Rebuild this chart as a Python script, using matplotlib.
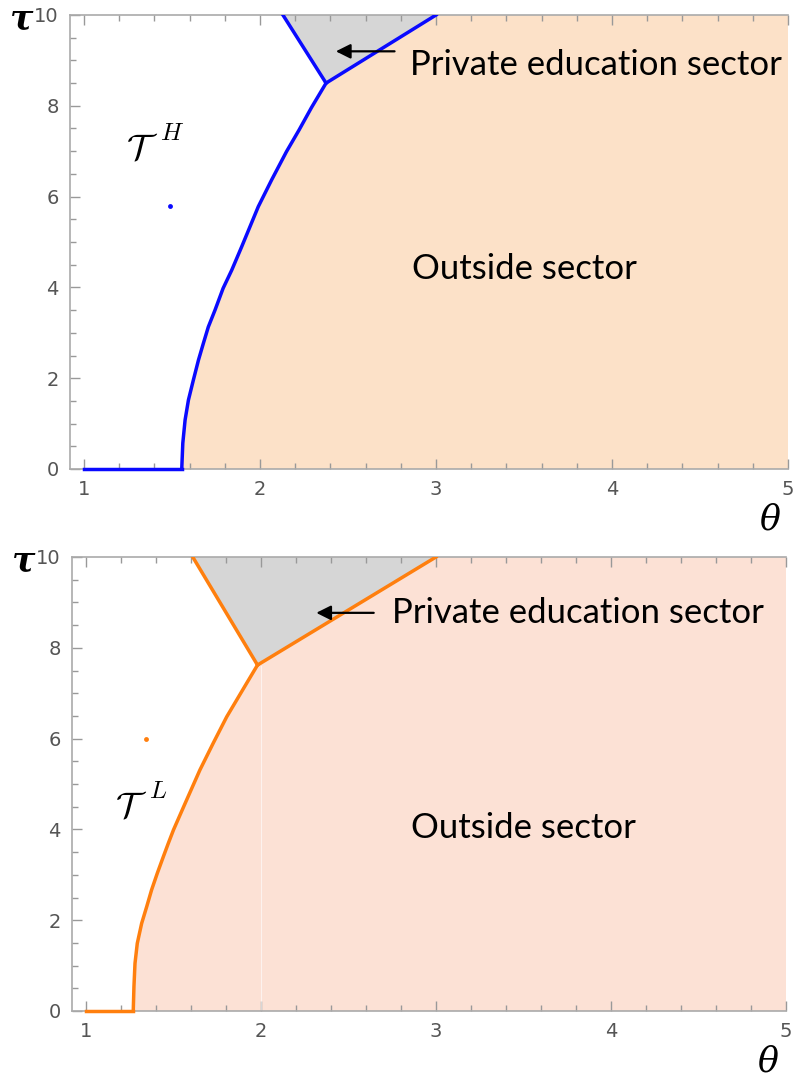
import numpy as np
import matplotlib.pyplot as plt
from matplotlib.ticker import MultipleLocator

plt.rcParams['mathtext.fontset'] = 'cm'

# grans-kurvor (theta, tau) for de två fallen
kurva_H_theta = [1.555, 1.561, 1.574, 1.593, 1.621, 1.65, 1.678, 1.706, 1.744, 1.79,
                 1.839, 1.896, 1.99, 2.066, 2.15, 2.222, 2.292, 2.375]
kurva_H_tau = [0.0, 0.57, 1.08, 1.52, 1.96, 2.4, 2.77, 3.13, 3.5, 3.98,
               4.38, 4.9, 5.78, 6.37, 6.99, 7.47, 7.96, 8.5]
gra_H_topp = [2.13, 3.0]  # theta där gråa området möter tau=10
punkt_H = (1.49, 5.8)

kurva_L_theta = [1.27, 1.274, 1.28, 1.293, 1.318, 1.347, 1.375, 1.407, 1.442, 1.47,
                 1.50, 1.566, 1.651, 1.727, 1.804, 1.861, 1.918, 1.98]
kurva_L_tau = [0.0, 0.54, 1.05, 1.49, 1.93, 2.3, 2.67, 3.03, 3.4, 3.69,
               3.99, 4.57, 5.31, 5.9, 6.48, 6.85, 7.22, 7.62]
gra_L_topp = [1.61, 3.0]
punkt_L = (1.34, 6.0)

x_ticks = [1, 2, 3, 4, 5]
y_ticks = [0, 2, 4, 6, 8, 10]

fig = plt.figure(figsize=(7.95, 10.78), dpi=100)
ax1 = fig.add_axes([70/795, 1-469/1078, 718/795, 454/1078])
ax2 = fig.add_axes([72/795, 1-1011/1078, 714/795, 454/1078])


def rita_panel(ax, kt, ktau, gra_topp, punkt, linje_farg, fyll_farg, index,
               etikett_pos, pil_head, pil_tail, text_pos, outside_pos):
    jx, jy = kt[-1], ktau[-1]
    # utanför-sektorn (höger om kurvan)
    px = list(kt) + [gra_topp[1], 5.0, 5.0]
    py = list(ktau) + [10.0, 10.0, 0.0]
    ax.fill(px, py, color=fyll_farg, lw=0, zorder=1)
    # privat utbildning (grått)
    ax.fill([jx, gra_topp[0], gra_topp[1]], [jy, 10, 10], color='#d6d6d6', lw=0, zorder=1)

    lw = 2.5
    ax.plot([1.0, kt[0]], [0, 0], color=linje_farg, lw=lw, zorder=3, clip_on=False)
    ax.plot(kt, ktau, color=linje_farg, lw=lw, zorder=3, solid_joinstyle='round')
    ax.plot([jx, gra_topp[0]], [jy, 10], color=linje_farg, lw=lw, zorder=3)
    ax.plot([jx, gra_topp[1]], [jy, 10], color=linje_farg, lw=lw, zorder=3)
    ax.plot(*punkt, 'o', color=linje_farg, ms=3.5, mew=0, zorder=3)

    # T med index, indexet lite större än vanlig upphöjd text
    ex, ey = etikett_pos
    ax.text(ex, ey, r'$\mathcal{T}$', fontsize=26, ha='right', va='center')
    ax.text(ex + 0.01, ey + 0.35, '$' + index + '$', fontsize=18, ha='left', va='center')

    ax.annotate('', xy=pil_head, xytext=pil_tail,
                arrowprops=dict(arrowstyle='-|>', color='black', lw=1.6,
                                mutation_scale=22))
    ax.text(*text_pos, 'Private education sector', fontsize=25, family='Lato',
            ha='left', va='center')
    ax.text(*outside_pos, 'Outside sector', fontsize=25, family='Lato',
            ha='center', va='center')

    ax.set_xlim(0.92, 5.0)
    ax.set_ylim(0, 10)
    ax.set_xticks(x_ticks)
    ax.set_yticks(y_ticks)
    ax.xaxis.set_minor_locator(MultipleLocator(0.2))
    ax.yaxis.set_minor_locator(MultipleLocator(0.5))
    ax.tick_params(which='both', direction='in', top=True, right=False,
                   color='#999999', width=1)
    ax.tick_params(which='major', length=7, labelsize=14, labelcolor='#555555', pad=8)
    ax.tick_params(which='minor', length=4)
    for s in ['left', 'bottom', 'top']:
        ax.spines[s].set_color('#aaaaaa')
        ax.spines[s].set_linewidth(1.2)
    ax.spines['right'].set_visible(False)
    ax.text(-0.068, 0.99, 'τ', transform=ax.transAxes, fontsize=25,
            family='DejaVu Serif', style='italic', weight='bold', ha='center', va='center')
    ax.text(0.975, -0.112, 'θ', transform=ax.transAxes, fontsize=25,
            family='DejaVu Serif', style='italic', ha='center', va='center')


rita_panel(ax1, kurva_H_theta, kurva_H_tau, gra_H_topp, punkt_H, '#0a0aff', '#fce1c8',
           'H', (1.42, 7.05), (2.415, 9.2), (2.78, 9.2),
           (2.85, 8.9), (3.5, 4.4))
rita_panel(ax2, kurva_L_theta, kurva_L_tau, gra_L_topp, punkt_L, '#ff7f0e', '#fce1d5',
           'L', (1.35, 4.5), (2.30, 8.77), (2.66, 8.77),
           (2.75, 8.77), (3.5, 4.03))
# svag vit linje i fyllningen vid theta=2
ax2.plot([2.0, 2.0], [0, 7.6], color='white', lw=0.8, alpha=0.6, zorder=2)

fig.savefig('out.png', dpi=100)
